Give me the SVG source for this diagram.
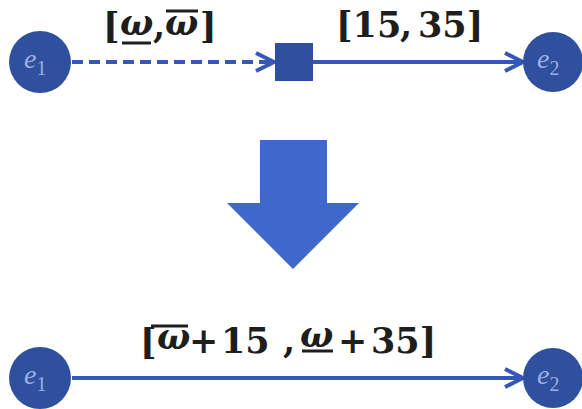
<svg xmlns="http://www.w3.org/2000/svg" width="582" height="409" viewBox="0 0 582 409">
<style>
.node{fill:#2f4f9f}
.nl{font-family:"Liberation Serif",serif;font-style:italic;fill:#9bb0e0;font-size:28px}
.ns{font-size:20px;font-style:normal}
.edge{stroke:#3558b8;stroke-width:4;fill:none}
.dash{stroke-dasharray:11 6}
.lbl{font-family:"DejaVu Serif",serif;font-weight:bold;fill:#1e1e1e;font-size:35px}
.w{font-style:italic}
.bar{stroke:#1e1e1e;stroke-width:3}
</style>
<rect width="582" height="409" fill="#fff"/>
<g id="connectors">
<line class="edge dash" x1="72" y1="62" x2="272" y2="62"/>
<polyline class="edge" points="256,53 274,62 256,71"/>
<line class="edge" x1="313" y1="62" x2="521" y2="62"/>
<polyline class="edge" points="505,53 523,62 505,71"/>
<line class="edge" x1="72" y1="378" x2="521" y2="378"/>
<polyline class="edge" points="505,369 523,378 505,387"/>
<polygon id="bigarrow" points="260,140 327,140 327,203 359,203 293,269 227,203 260,203" fill="#3f68cc"/>
</g>
<g id="n-e1-top">
<circle class="node" cx="40" cy="62" r="31"/>
<text class="nl" x="24" y="68">e<tspan class="ns" dy="7">1</tspan></text>
</g>
<g id="n-sq">
<rect class="node" x="275" y="43" width="38" height="38"/>
</g>
<g id="n-e2-top">
<circle class="node" cx="553" cy="62" r="30"/>
<text class="nl" x="537" y="68">e<tspan class="ns" dy="7">2</tspan></text>
</g>
<g id="n-e1-bot">
<circle class="node" cx="40" cy="378" r="31"/>
<text class="nl" x="24" y="384">e<tspan class="ns" dy="7">1</tspan></text>
</g>
<g id="n-e2-bot">
<circle class="node" cx="553" cy="378" r="30"/>
<text class="nl" x="537" y="384">e<tspan class="ns" dy="7">2</tspan></text>
</g>
<g id="labels">
<text class="lbl" x="103" y="38">[</text>
<text class="lbl w" x="120" y="35">ω</text>
<text class="lbl" x="153" y="38">,</text>
<text class="lbl w" x="165" y="35">ω</text>
<text class="lbl" x="200" y="38">]</text>
<line class="bar" x1="122" y1="43" x2="151" y2="43"/>
<line class="bar" x1="166" y1="11" x2="198" y2="11"/>
<text class="lbl" x="336" y="37">[15</text>
<text class="lbl" x="400" y="37">,</text>
<text class="lbl" x="418" y="37">35]</text>
<text class="lbl" x="140" y="354">[</text>
<text class="lbl w" x="157" y="349">ω</text>
<text class="lbl" x="189" y="353">+</text>
<text class="lbl" x="221" y="353">15</text>
<text class="lbl" x="283" y="353">,</text>
<text class="lbl w" x="300" y="347">ω</text>
<text class="lbl" x="338" y="353">+</text>
<text class="lbl" x="371" y="353">35]</text>
<line class="bar" x1="151" y1="326" x2="188" y2="326"/>
<line class="bar" x1="302" y1="351" x2="333" y2="351"/>
</g>
</svg>
